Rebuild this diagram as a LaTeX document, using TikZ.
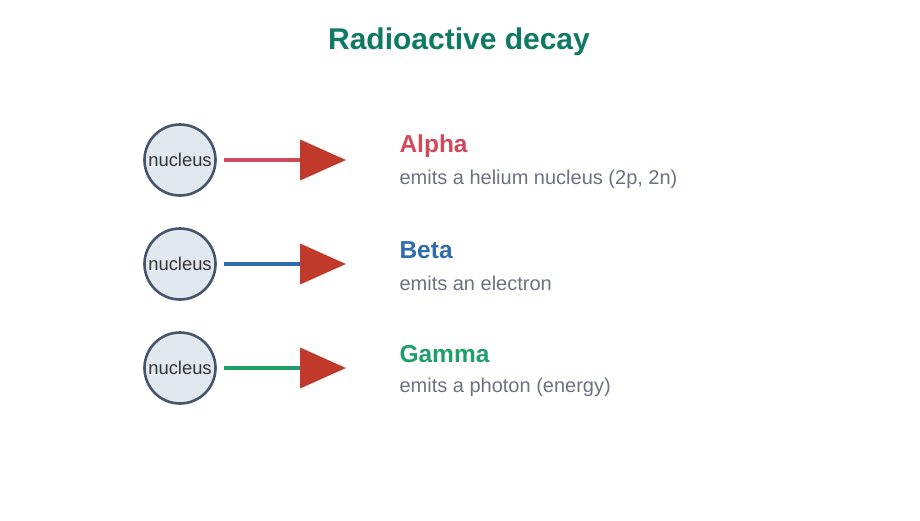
\documentclass[tikz,border=0pt]{standalone}
\usepackage{fontspec}
\setmainfont{Liberation Sans}
\usetikzlibrary{arrows.meta,positioning}

\definecolor{titlegreen}{HTML}{0F7A63}
\definecolor{alphared}{HTML}{D04A5A}
\definecolor{betablue}{HTML}{2F6CAE}
\definecolor{gammagreen}{HTML}{1E9E6A}
\definecolor{tipred}{HTML}{C0392B}
\definecolor{nucfill}{HTML}{E2E8F0}
\definecolor{nucdraw}{HTML}{475569}
\definecolor{capgray}{HTML}{6B7280}

\tikzset{
    nucleus/.style={circle, draw=nucdraw, fill=nucfill, line width=2.6pt,
        minimum size=71pt, inner sep=0pt, font=\fontsize{18.4}{21}\selectfont,
        text=black!80},
    ray/.style={line width=4pt, shorten <=7pt,
        -{Triangle[length=46pt,width=40pt,color=tipred]}},
    kind/.style={anchor=west, font=\fontsize{24.5}{28}\selectfont\bfseries},
    caption/.style={anchor=west, text=capgray, font=\fontsize{20}{24}\selectfont}
}

\begin{document}
\begin{tikzpicture}[x=1pt,y=-1pt]
    \useasboundingbox (0,0) rectangle (920,520);

    % title
    \node[text=titlegreen, font=\fontsize{30}{34}\selectfont\bfseries] (title) at (459,42) {Radioactive decay};

    % one row per kind of decay
    \foreach \name/\y/\col/\kindtext/\captext in {
        alpha/160/alphared/Alpha/{emits a helium nucleus (2p, 2n)},
        beta/264/betablue/Beta/{emits an electron},
        gamma/368/gammagreen/Gamma/{emits a photon (energy)}} {
            % nucleus
            \node[nucleus] (nuc-\name) at (180,\y) {nucleus};
            % arrow tip
            \coordinate (tip-\name) at (346,\y);
            \draw[ray, \col] (nuc-\name.east |- tip-\name) -- (tip-\name);
            % labels
            \node[kind, text=\col] (kind-\name) at (396,\y-14) {\kindtext};
            \node[caption] (cap-\name) at (396,\y+19) {\captext};
    }
\end{tikzpicture}
\end{document}
